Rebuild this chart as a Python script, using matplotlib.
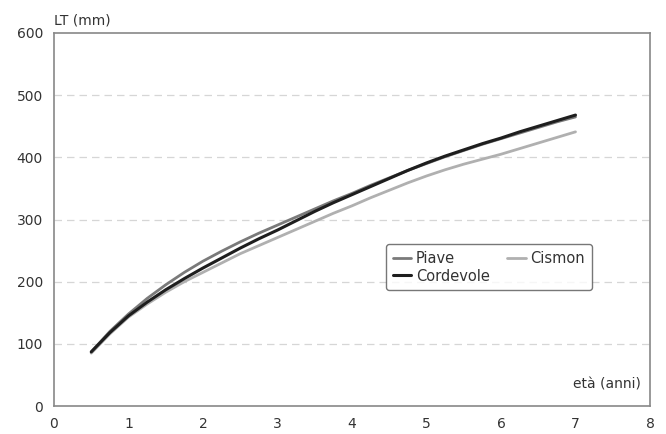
import numpy as np
import matplotlib.pyplot as plt

# eta (anni) and LT (mm)
eta = [0.5, 0.75, 1, 1.25, 1.5, 1.75, 2, 2.25, 2.5, 2.75, 3, 3.25, 3.5, 3.75,
       4, 4.25, 4.5, 4.75, 5, 5.25, 5.5, 5.75, 6, 6.25, 6.5, 6.75, 7]
piave = [87, 120, 148, 173, 195, 215, 233, 249, 264, 278, 291, 304, 317, 330,
         342, 355, 367, 379, 390, 401, 411, 421, 430, 439, 448, 457, 465]
cismon = [85, 116, 143, 164, 183, 200, 215, 230, 245, 258, 271, 284, 297, 310,
          322, 335, 347, 359, 370, 380, 389, 397, 405, 414, 423, 432, 441]
cordevole = [87, 118, 145, 167, 187, 205, 222, 238, 254, 269, 283, 298, 313, 327,
             340, 353, 366, 379, 391, 402, 412, 422, 431, 441, 450, 459, 468]

fig = plt.figure(figsize=(6.66, 4.34), dpi=100)
ax = fig.add_axes([54/666, 28/434, 596/666, 373/434])

l1, = ax.plot(eta, piave, color='#7a7a7a', lw=2.0, label='Piave', solid_capstyle='round')
l2, = ax.plot(eta, cismon, color='#b0b0b0', lw=2.0, label='Cismon', solid_capstyle='round')
l3, = ax.plot(eta, cordevole, color='#1e1e1e', lw=2.2, label='Cordevole', solid_capstyle='round')

ax.set_xlim(0, 8)
ax.set_ylim(0, 600)
ax.set_xticks(range(0, 9))
ax.set_yticks(range(0, 700, 100))
ax.tick_params(length=0, labelsize=10, colors='#333333', pad=8)
for s in ax.spines.values():
    s.set_color('#888888')
    s.set_linewidth(1.2)

for y in range(100, 600, 100):
    ax.axhline(y, color='#d6d6d6', lw=0.9, ls=(0, (6, 4)), zorder=0)

ax.text(0.0, 1.015, 'LT (mm)', transform=ax.transAxes, ha='left', va='bottom',
        fontsize=10, color='#333333')
ax.text(0.985, 0.04, 'età (anni)', transform=ax.transAxes, ha='right', va='bottom',
        fontsize=10, color='#333333')

# column-wise fill: Piave / Cordevole in col 1, Cismon in col 2
leg = ax.legend([l1, l3, l2], ['Piave', 'Cordevole', 'Cismon'],
                loc='upper left', bbox_to_anchor=(0.557, 0.434),
                ncol=2, fontsize=10.5, frameon=True, fancybox=True,
                handlelength=1.3, handletextpad=0.3, borderpad=0.45, labelspacing=0.2,
                columnspacing=1.2, borderaxespad=0)
leg.get_frame().set_edgecolor('#555555')
leg.get_frame().set_linewidth(1.0)
for t in leg.get_texts():
    t.set_color('#333333')

fig.savefig('out.png', dpi=100)
